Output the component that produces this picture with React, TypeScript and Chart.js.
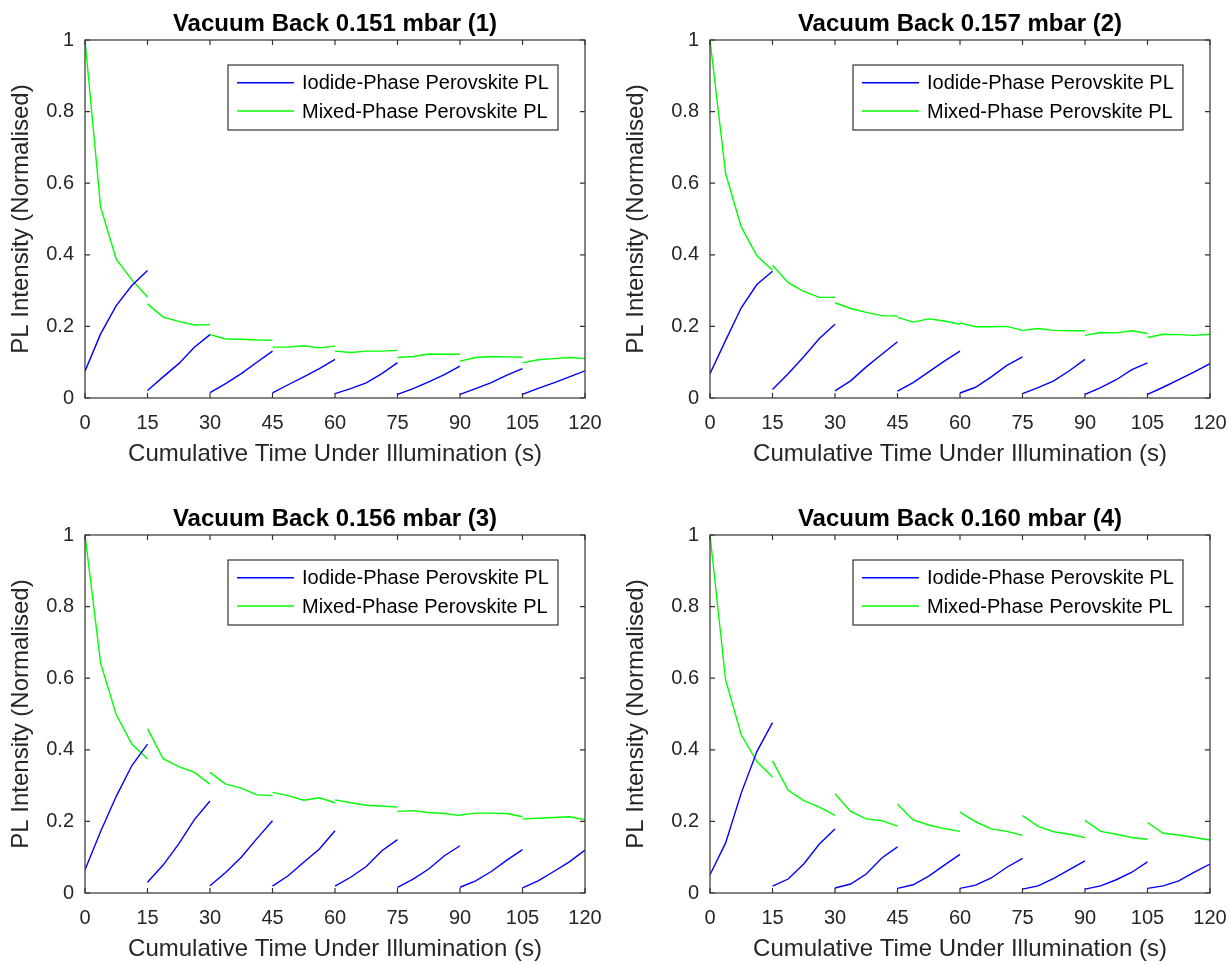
import React, { useEffect, useRef } from "react";
import { Chart, registerables } from "chart.js";

Chart.register(...registerables);

const FONT = "'Liberation Sans', Arial, Helvetica, sans-serif";
const AXIS_COLOR = "#333333";
const TEXT_COLOR = "#262626";

const SERIES_LABELS = ["Iodide-Phase Perovskite PL", "Mixed-Phase Perovskite PL"];
const SERIES_COLORS = ["#0000ff", "#00ff00"];

const X_TICKS = [0, 15, 30, 45, 60, 75, 90, 105, 120];
const Y_TICKS = [0, 0.2, 0.4, 0.6, 0.8, 1];

// sampling times (s); each 15 s illumination window holds 5 samples
const TIME = [
  0, 3.75, 7.5, 11.25, 15,
  15, 18.75, 22.5, 26.25, 30,
  30, 33.75, 37.5, 41.25, 45,
  45, 48.75, 52.5, 56.25, 60,
  60, 63.75, 67.5, 71.25, 75,
  75, 78.75, 82.5, 86.25, 90,
  90, 93.75, 97.5, 101.25, 105,
  105, 108.75, 112.5, 116.25, 120,
];
const SEGMENT_LENGTH = 5;

const TITLES = [
  "Vacuum Back 0.151 mbar (1)",
  "Vacuum Back 0.157 mbar (2)",
  "Vacuum Back 0.156 mbar (3)",
  "Vacuum Back 0.160 mbar (4)",
];

const IODIDE_1 = [
  0.075, 0.179, 0.258, 0.314, 0.356,
  0.021, 0.059, 0.096, 0.142, 0.177,
  0.015, 0.040, 0.068, 0.100, 0.131,
  0.014, 0.037, 0.059, 0.082, 0.108,
  0.012, 0.026, 0.042, 0.068, 0.099,
  0.010, 0.026, 0.045, 0.065, 0.089,
  0.010, 0.026, 0.043, 0.064, 0.082,
  0.010, 0.027, 0.042, 0.059, 0.076,
];
const MIXED_1 = [
  1.0, 0.533, 0.388, 0.330, 0.282,
  0.263, 0.226, 0.214, 0.204, 0.205,
  0.177, 0.165, 0.164, 0.162, 0.161,
  0.142, 0.142, 0.146, 0.140, 0.145,
  0.131, 0.127, 0.131, 0.131, 0.133,
  0.113, 0.116, 0.123, 0.122, 0.122,
  0.103, 0.113, 0.116, 0.115, 0.114,
  0.098, 0.107, 0.110, 0.113, 0.110,
];

const IODIDE_2 = [
  0.068, 0.161, 0.252, 0.317, 0.354,
  0.024, 0.068, 0.115, 0.166, 0.206,
  0.020, 0.048, 0.087, 0.122, 0.157,
  0.019, 0.043, 0.073, 0.103, 0.131,
  0.014, 0.030, 0.059, 0.091, 0.115,
  0.012, 0.029, 0.048, 0.076, 0.108,
  0.010, 0.029, 0.051, 0.079, 0.098,
  0.010, 0.030, 0.051, 0.073, 0.096,
];
const MIXED_2 = [
  1.0, 0.627, 0.478, 0.397, 0.357,
  0.371, 0.322, 0.298, 0.281, 0.281,
  0.266, 0.250, 0.239, 0.230, 0.229,
  0.225, 0.212, 0.221, 0.215, 0.206,
  0.210, 0.199, 0.199, 0.200, 0.189,
  0.189, 0.194, 0.189, 0.188, 0.188,
  0.175, 0.183, 0.182, 0.188, 0.180,
  0.169, 0.178, 0.177, 0.175, 0.178,
];

const IODIDE_3 = [
  0.065, 0.172, 0.270, 0.356, 0.416,
  0.030, 0.078, 0.137, 0.205, 0.257,
  0.020, 0.057, 0.100, 0.152, 0.202,
  0.019, 0.048, 0.086, 0.123, 0.174,
  0.019, 0.044, 0.074, 0.118, 0.149,
  0.016, 0.039, 0.067, 0.104, 0.132,
  0.016, 0.034, 0.060, 0.092, 0.121,
  0.014, 0.034, 0.060, 0.087, 0.120,
];
const MIXED_3 = [
  1.0, 0.642, 0.498, 0.416, 0.374,
  0.459, 0.375, 0.353, 0.337, 0.304,
  0.337, 0.304, 0.293, 0.274, 0.272,
  0.281, 0.272, 0.259, 0.266, 0.252,
  0.260, 0.252, 0.245, 0.243, 0.240,
  0.228, 0.230, 0.225, 0.222, 0.216,
  0.218, 0.223, 0.223, 0.222, 0.213,
  0.207, 0.209, 0.211, 0.213, 0.205,
];

const IODIDE_4 = [
  0.051, 0.140, 0.279, 0.395, 0.476,
  0.019, 0.039, 0.081, 0.137, 0.179,
  0.014, 0.025, 0.053, 0.098, 0.129,
  0.013, 0.023, 0.047, 0.078, 0.108,
  0.013, 0.022, 0.042, 0.072, 0.097,
  0.011, 0.020, 0.041, 0.065, 0.090,
  0.011, 0.020, 0.037, 0.058, 0.087,
  0.013, 0.020, 0.034, 0.058, 0.081,
];
const MIXED_4 = [
  1.0, 0.595, 0.442, 0.367, 0.324,
  0.369, 0.287, 0.258, 0.240, 0.217,
  0.277, 0.228, 0.207, 0.202, 0.187,
  0.248, 0.204, 0.190, 0.180, 0.172,
  0.226, 0.199, 0.179, 0.172, 0.161,
  0.216, 0.186, 0.171, 0.164, 0.155,
  0.203, 0.172, 0.164, 0.155, 0.150,
  0.197, 0.167, 0.162, 0.155, 0.148,
];

// build segmented series: a null point after each illumination window breaks the line
function segmented(values: number[]) {
  const out: { x: number; y: number | null }[] = [];
  values.forEach((v, i) => {
    out.push({ x: TIME[i], y: v });
    if ((i + 1) % SEGMENT_LENGTH === 0 && i < values.length - 1) {
      out.push({ x: TIME[i], y: null });
    }
  });
  return out;
}

const matlabFrame = {
  id: "matlabFrame",
  afterDatasetsDraw(chart: any) {
    const { ctx, chartArea } = chart;
    const { left, right, top, bottom } = chartArea;
    const xs = chart.scales.x;
    const ys = chart.scales.y;
    const TL = 5;
    ctx.save();
    ctx.strokeStyle = AXIS_COLOR;
    ctx.lineWidth = 1.2;
    ctx.beginPath();
    xs.ticks.forEach((t: any) => {
      const px = xs.getPixelForValue(t.value);
      ctx.moveTo(px, bottom);
      ctx.lineTo(px, bottom - TL);
      ctx.moveTo(px, top);
      ctx.lineTo(px, top + TL);
    });
    ys.ticks.forEach((t: any) => {
      const py = ys.getPixelForValue(t.value);
      ctx.moveTo(left, py);
      ctx.lineTo(left + TL, py);
      ctx.moveTo(right, py);
      ctx.lineTo(right - TL, py);
    });
    ctx.stroke();
    ctx.strokeRect(left, top, right - left, bottom - top);

    // legend box
    const bw = 330;
    const bh = 65;
    const bx = right - 27 - bw;
    const by = top + 25;
    ctx.fillStyle = "#ffffff";
    ctx.fillRect(bx, by, bw, bh);
    ctx.strokeStyle = AXIS_COLOR;
    ctx.lineWidth = 1.2;
    ctx.strokeRect(bx, by, bw, bh);
    const rows = [17.7, 46];
    chart.data.datasets.forEach((ds: any, i: number) => {
      const y = by + rows[i];
      ctx.strokeStyle = ds.borderColor;
      ctx.lineWidth = ds.borderWidth;
      ctx.beginPath();
      ctx.moveTo(bx + 9, y);
      ctx.lineTo(bx + 66, y);
      ctx.stroke();
      ctx.fillStyle = "#000000";
      ctx.font = `20px ${FONT}`;
      ctx.textAlign = "left";
      ctx.textBaseline = "middle";
      ctx.fillText(ds.label, bx + 74, y + 1);
    });
    ctx.restore();
  },
};

type PanelProps = {
  title: string;
  iodide: number[];
  mixed: number[];
  left: number;
  top: number;
  axisWidth: number;
};

const CANVAS_W = 615;
const CANVAS_H = 469;

function Panel({ title, iodide, mixed, left, top, axisWidth }: PanelProps) {
  const ref = useRef<HTMLCanvasElement | null>(null);

  useEffect(() => {
    if (!ref.current) return;
    const rightPad = CANVAS_W - axisWidth - 500;
    const chart = new Chart(ref.current, {
      type: "line",
      data: {
        datasets: [
          {
            label: SERIES_LABELS[0],
            data: segmented(iodide),
            borderColor: SERIES_COLORS[0],
            backgroundColor: SERIES_COLORS[0],
            borderWidth: 1.4,
            pointRadius: 0,
            spanGaps: false,
            tension: 0,
          },
          {
            label: SERIES_LABELS[1],
            data: segmented(mixed),
            borderColor: SERIES_COLORS[1],
            backgroundColor: SERIES_COLORS[1],
            borderWidth: 1.4,
            pointRadius: 0,
            spanGaps: false,
            tension: 0,
          },
        ],
      },
      options: {
        responsive: false,
        animation: false,
        devicePixelRatio: 1,
        layout: { padding: { top: 0, left: 0, right: rightPad, bottom: 0 } },
        plugins: {
          legend: { display: false },
          tooltip: { enabled: false },
          title: {
            display: true,
            text: title,
            fullSize: false,
            color: "#000000",
            font: { family: FONT, size: 24, weight: "bold" },
            padding: { top: 9.6, bottom: 1.6 },
          },
        },
        scales: {
          x: {
            type: "linear",
            min: 0,
            max: 120,
            afterBuildTicks: (s: any) => {
              s.ticks = X_TICKS.map((v) => ({ value: v }));
            },
            afterFit: (s: any) => {
              s.height = 71;
              s.paddingLeft = 0;
              s.paddingRight = 0;
            },
            grid: { display: false, drawTicks: false },
            border: { display: false },
            ticks: {
              autoSkip: false,
              maxRotation: 0,
              padding: 13.6,
              color: TEXT_COLOR,
              font: { family: FONT, size: 20 },
            },
            title: {
              display: true,
              text: "Cumulative Time Under Illumination (s)",
              color: TEXT_COLOR,
              font: { family: FONT, size: 24 },
              padding: { top: 0, bottom: 0 },
            },
          },
          y: {
            type: "linear",
            min: 0,
            max: 1,
            afterBuildTicks: (s: any) => {
              s.ticks = Y_TICKS.map((v) => ({ value: v }));
            },
            afterFit: (s: any) => {
              s.width = axisWidth;
              s.paddingTop = 0;
              s.paddingBottom = 0;
            },
            grid: { display: false, drawTicks: false },
            border: { display: false },
            ticks: {
              padding: 11,
              color: TEXT_COLOR,
              font: { family: FONT, size: 20 },
              callback: (v: any) => String(Number(v)),
            },
            title: {
              display: true,
              text: "PL Intensity (Normalised)",
              color: TEXT_COLOR,
              font: { family: FONT, size: 24 },
              padding: { top: 6.9, bottom: 0 },
            },
          },
        },
      },
      plugins: [matlabFrame],
    } as any);
    return () => chart.destroy();
  }, [title, iodide, mixed, axisWidth]);

  return (
    <canvas
      ref={ref}
      width={CANVAS_W}
      height={CANVAS_H}
      style={{ position: "absolute", left, top, width: CANVAS_W, height: CANVAS_H }}
    />
  );
}

export default function App() {
  return (
    <div
      style={{
        position: "absolute",
        left: 0,
        top: 0,
        width: 1230,
        height: 964,
        overflow: "hidden",
        background: "#ffffff",
      }}
    >
      <Panel title={TITLES[0]} iodide={IODIDE_1} mixed={MIXED_1} left={0} top={0} axisWidth={85} />
      <Panel title={TITLES[1]} iodide={IODIDE_2} mixed={MIXED_2} left={615} top={0} axisWidth={95} />
      <Panel title={TITLES[2]} iodide={IODIDE_3} mixed={MIXED_3} left={0} top={495} axisWidth={85} />
      <Panel title={TITLES[3]} iodide={IODIDE_4} mixed={MIXED_4} left={615} top={495} axisWidth={95} />
    </div>
  );
}
